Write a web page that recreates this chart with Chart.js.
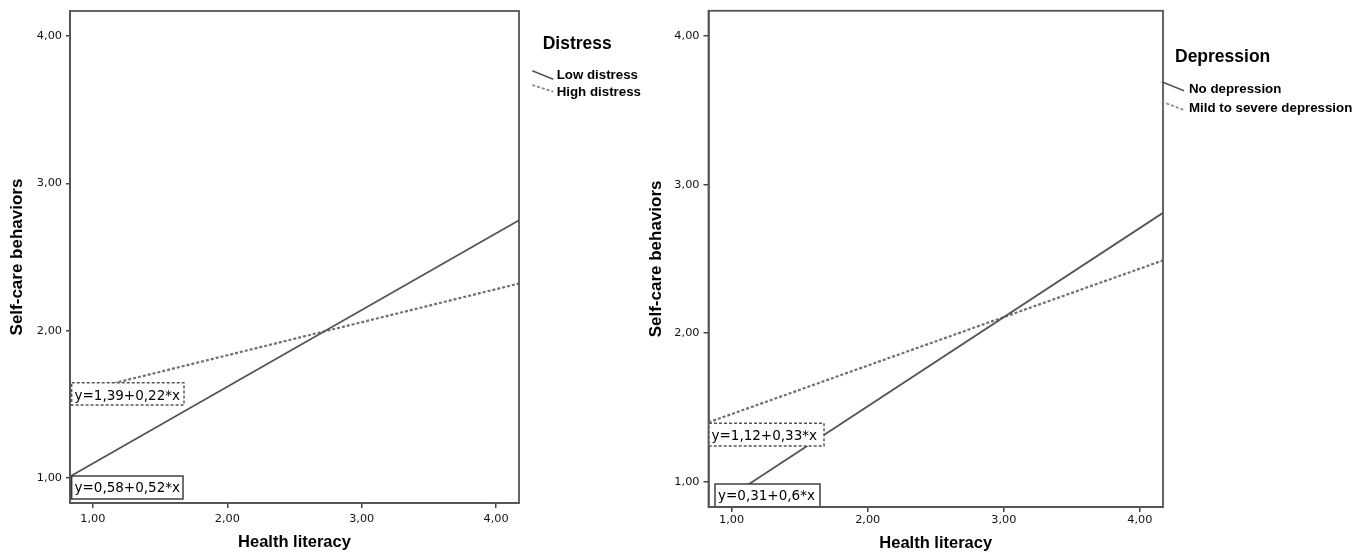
<!DOCTYPE html>
<html>
<head>
<meta charset="utf-8">
<script src="https://cdn.jsdelivr.net/npm/chart.js@4"></script>
<style>
  html, body { margin: 0; padding: 0; background: #ffffff; }
  #wrap { position: relative; width: 1368px; height: 559px; overflow: hidden; background: #fff; }
  canvas { position: absolute; top: 0; }
  #c1 { left: 0px; }
  #c2 { left: 640px; }
</style>
</head>
<body>
<div id="wrap">
  <canvas id="c1" width="660" height="559"></canvas>
  <canvas id="c2" width="728" height="559"></canvas>
</div>
<script>
// ---------- data ----------
const xTickValues = [1, 2, 3, 4];
const yTickValues = [1, 2, 3, 4];
const axisMin = 0.83;
const axisMax = 4.17;

// Distress panel
const distressTitle = 'Distress';
const distressLabels = ['Low distress', 'High distress'];
const lowDistressX = [0.83, 4.17];
const lowDistressY = [1.01, 2.75];
const highDistressX = [0.83, 4.17];
const highDistressY = [1.57, 2.32];
const distressEquations = ['y=0,58+0,52*x', 'y=1,39+0,22*x'];

// Depression panel
const depressionTitle = 'Depression';
const depressionLabels = ['No depression', 'Mild to severe depression'];
const noDepressionX = [1.12, 4.17];
const noDepressionY = [0.98, 2.81];
const mildDepressionX = [0.83, 4.17];
const mildDepressionY = [1.40, 2.49];
const depressionEquations = ['y=0,31+0,6*x', 'y=1,12+0,33*x'];

const xAxisTitle = 'Health literacy';
const yAxisTitle = 'Self-care behaviors';

// ---------- helpers ----------
const pts = (xs, ys) => xs.map((x, i) => ({ x: x, y: ys[i] }));
const fmt = v => Number(v).toFixed(2).replace('.', ',');
const TITLE_FONT = '"Liberation Sans", Arial, sans-serif';
const TICK_FONT = '"DejaVu Sans", Verdana, sans-serif';

function overlayPlugin(layout, eqTexts, legendTitle, legendLabels) {
  return {
    id: 'overlay',
    afterDatasetsDraw(chart) {
      const ctx = chart.ctx;
      const a = chart.chartArea;
      ctx.save();
      // equation boxes (white filled, drawn over lines)
      layout.boxes.forEach((b, i) => {
        ctx.fillStyle = '#ffffff';
        ctx.fillRect(b.x, b.y, b.w, b.h);
        ctx.setLineDash(b.dashed ? [3, 2] : []);
        ctx.strokeStyle = b.dashed ? '#555' : '#333';
        ctx.lineWidth = 1.4;
        ctx.strokeRect(b.x, b.y, b.w, b.h);
        ctx.setLineDash([]);
        ctx.fillStyle = '#000';
        ctx.font = '13.5px ' + TICK_FONT;
        ctx.textAlign = 'left';
        ctx.textBaseline = 'alphabetic';
        ctx.fillText(eqTexts[i], b.tx, b.ty);
      });
      // frame around plot area
      ctx.strokeStyle = '#555';
      ctx.lineWidth = 1.8;
      ctx.strokeRect(a.left, a.top, a.right - a.left, a.bottom - a.top);
      ctx.restore();
    },
    afterDraw(chart) {
      const ctx = chart.ctx;
      const L = layout.legend;
      ctx.save();
      ctx.fillStyle = '#000';
      ctx.textAlign = 'left';
      ctx.textBaseline = 'alphabetic';
      ctx.font = 'bold 17.5px ' + TITLE_FONT;
      ctx.fillText(legendTitle, L.title.x, L.title.y);
      L.items.forEach((it, i) => {
        ctx.beginPath();
        ctx.setLineDash(i === 0 ? [] : [3, 2]);
        ctx.strokeStyle = i === 0 ? '#555' : '#888';
        ctx.lineWidth = i === 0 ? 1.5 : 1.8;
        ctx.moveTo(it.x1, it.y1);
        ctx.lineTo(it.x2, it.y2);
        ctx.stroke();
        ctx.setLineDash([]);
        ctx.font = 'bold 13.3px ' + TITLE_FONT;
        ctx.fillStyle = '#000';
        ctx.fillText(legendLabels[i], it.tx, it.ty);
      });
      ctx.restore();
    }
  };
}

function makeChart(canvasId, datasets, p) {
  return new Chart(document.getElementById(canvasId), {
    type: 'line',
    data: { datasets: datasets },
    options: {
      responsive: false,
      maintainAspectRatio: false,
      animation: false,
      events: [],
      layout: { padding: { left: 0, top: p.top, right: p.right, bottom: 0 } },
      plugins: { legend: { display: false }, tooltip: { enabled: false } },
      elements: { point: { radius: 0 } },
      scales: {
        x: {
          type: 'linear',
          min: axisMin,
          max: axisMax,
          afterBuildTicks: s => { s.ticks = xTickValues.map(v => ({ value: v })); },
          afterFit: s => { s.height = p.xHeight; },
          ticks: {
            callback: v => fmt(v),
            autoSkip: false,
            maxRotation: 0,
            padding: p.xTickPad,
            color: '#111',
            font: { family: TICK_FONT, size: 11.3 }
          },
          grid: { display: true, drawOnChartArea: false, drawTicks: true, tickLength: 5, color: '#444', lineWidth: 1.5 },
          border: { display: true, color: '#555', width: 1.8 },
          title: {
            display: true,
            text: xAxisTitle,
            color: '#000',
            font: { family: TITLE_FONT, size: 16.5, weight: 'bold', lineHeight: 1.2 },
            padding: { top: 0, bottom: p.xTitlePad }
          }
        },
        y: {
          type: 'linear',
          min: axisMin,
          max: axisMax,
          afterBuildTicks: s => { s.ticks = yTickValues.map(v => ({ value: v })); },
          afterFit: s => { s.width = p.yWidth; },
          ticks: {
            callback: v => fmt(v),
            padding: 4,
            color: '#111',
            font: { family: TICK_FONT, size: 11.3 }
          },
          grid: { display: true, drawOnChartArea: false, drawTicks: true, tickLength: p.yTickLen, color: '#444', lineWidth: 1.5 },
          border: { display: true, color: '#555', width: 1.8 },
          title: {
            display: true,
            text: yAxisTitle,
            color: '#000',
            font: { family: TITLE_FONT, size: 17, weight: 'bold', lineHeight: 1.2 },
            padding: { top: p.yTitlePad, bottom: 0 }
          }
        }
      }
    },
    plugins: [p.overlay]
  });
}

const solidStyle = { borderColor: '#555', borderWidth: 1.8, pointRadius: 0, fill: false, tension: 0 };
const dottedStyle = { borderColor: '#707070', borderWidth: 2.2, borderDash: [3, 2], pointRadius: 0, fill: false, tension: 0 };

// ---------- left panel: Distress ----------
const leftLayout = {
  boxes: [
    { x: 71.7, y: 476, w: 111.3, h: 23, dashed: false, tx: 74.5, ty: 492 },
    { x: 71.7, y: 382.7, w: 112.3, h: 22.3, dashed: true, tx: 74.5, ty: 400 }
  ],
  legend: {
    title: { x: 542.7, y: 49.3 },
    items: [
      { x1: 532.3, y1: 70.7, x2: 553.3, y2: 79.3, tx: 556.7, ty: 79.3 },
      { x1: 532.3, y1: 85, x2: 553.3, y2: 91.7, tx: 556.7, ty: 96 }
    ]
  }
};
makeChart('c1', [
  Object.assign({ label: distressLabels[0], data: pts(lowDistressX, lowDistressY) }, solidStyle),
  Object.assign({ label: distressLabels[1], data: pts(highDistressX, highDistressY) }, dottedStyle)
], {
  top: 11, right: 141, xHeight: 56, yWidth: 70, xTickPad: 4, xTitlePad: 6.6, yTitlePad: 6.8, yTickLen: 4,
  overlay: overlayPlugin(leftLayout, distressEquations, distressTitle, distressLabels)
});

// ---------- right panel: Depression ----------
const rightLayout = {
  boxes: [
    { x: 75, y: 484, w: 105, h: 22.7, dashed: false, tx: 78, ty: 500 },
    { x: 69, y: 423.3, w: 115, h: 22.7, dashed: true, tx: 71.5, ty: 440 }
  ],
  legend: {
    title: { x: 535, y: 62.3 },
    items: [
      { x1: 521.7, y1: 81.7, x2: 544, y2: 90.7, tx: 549, ty: 93.3 },
      { x1: 521.7, y1: 101.7, x2: 544, y2: 110, tx: 549, ty: 111.7 }
    ]
  }
};
makeChart('c2', [
  Object.assign({ label: depressionLabels[0], data: pts(noDepressionX, noDepressionY) }, solidStyle),
  Object.assign({ label: depressionLabels[1], data: pts(mildDepressionX, mildDepressionY) }, dottedStyle)
], {
  top: 10, right: 205, xHeight: 52, yWidth: 68.5, xTickPad: 1.5, xTitlePad: 6.1, yTitlePad: 6.3, yTickLen: 5,
  overlay: overlayPlugin(rightLayout, depressionEquations, depressionTitle, depressionLabels)
});
</script>
</body>
</html>
